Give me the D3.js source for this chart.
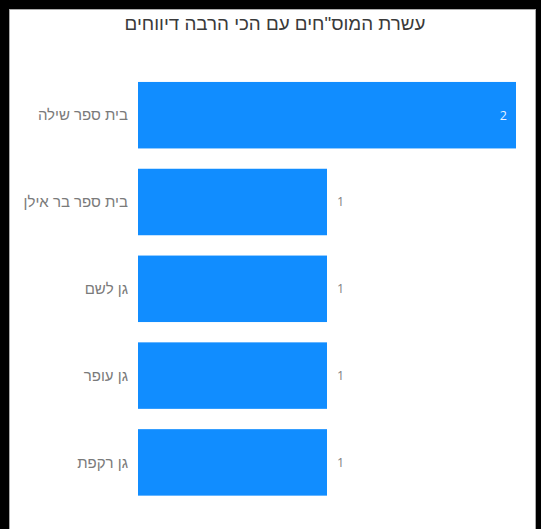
<!DOCTYPE html>
<html>
<head>
<meta charset="utf-8">
<script src="https://cdn.jsdelivr.net/npm/d3@7"></script>
<style>
html,body{margin:0;padding:0;background:#000;}
svg{display:block;}
</style>
</head>
<body>
<script>
const title = 'עשרת המוס"חים עם הכי הרבה דיווחים';
const categories = ["בית ספר שילה", "בית ספר בר אילן", "גן לשם", "גן עופר", "גן רקפת"];
const values = [2, 1, 1, 1, 1];

const W = 541, H = 529;
const svg = d3.select("body").append("svg").attr("width", W).attr("height", H);

// black frame and white card
svg.append("rect").attr("x",0).attr("y",0).attr("width",W).attr("height",H).attr("fill","#000");
svg.append("rect").attr("x",9.5).attr("y",9.5).attr("width",526).attr("height",H).attr("fill","#fff").attr("stroke","#aaa").attr("stroke-width",1);

const hebFont = "'Liberation Sans', Arial, sans-serif";
const numFont = "'Open Sans', 'Noto Sans', sans-serif";

svg.append("text")
  .attr("x", 275).attr("y", 30)
  .attr("text-anchor","middle")
  .attr("font-family", hebFont).attr("font-size", 18.8)
  .attr("fill","#3a3a3a")
  .text(title);

const x = d3.scaleLinear().domain([0, 2]).range([138, 516]);
const y = d3.scaleBand().domain(categories).range([71.8, 505.8]).paddingInner(0.234).paddingOuter(0.117);

const data = categories.map((c,i)=>({c, v: values[i]}));

svg.append("g").selectAll("rect").data(data).join("rect")
  .attr("x", x(0))
  .attr("y", d => y(d.c))
  .attr("width", d => x(d.v) - x(0))
  .attr("height", y.bandwidth())
  .attr("fill", "#118DFF");

// category labels
svg.append("g").selectAll("text").data(data).join("text")
  .attr("x", 128)
  .attr("y", d => y(d.c) + y.bandwidth()/2)
  .attr("dy","0.35em")
  .attr("text-anchor","end")
  .attr("font-family", hebFont).attr("font-size", 15)
  .attr("fill","#7a7a7a")
  .text(d => d.c);

// value labels
const maxV = d3.max(values);
svg.append("g").selectAll("text").data(data).join("text")
  .attr("x", d => d.v === maxV ? x(d.v) - 9 : x(d.v) + 10)
  .attr("y", d => y(d.c) + y.bandwidth()/2)
  .attr("dy","0.35em")
  .attr("text-anchor", d => d.v === maxV ? "end" : "start")
  .attr("font-family", numFont).attr("font-size", 12.5)
  .attr("fill", d => d.v === maxV ? "#e8f2ff" : "#808080")
  .text(d => d.v);
</script>
</body>
</html>
